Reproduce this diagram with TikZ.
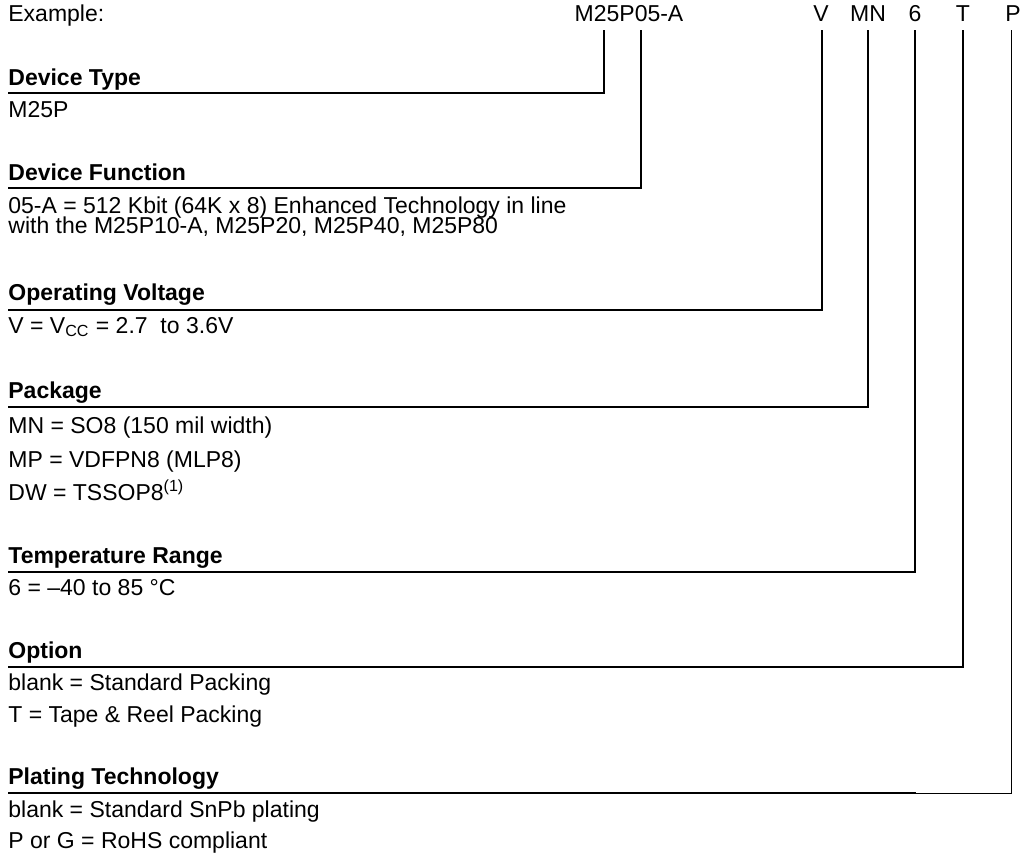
\documentclass[tikz,border=0pt]{standalone}
\usepackage{fontspec}
\setmainfont{Liberation Sans}
\usetikzlibrary{positioning}

\tikzset{
  txt/.style={anchor=base west, inner sep=0pt, font=\fontsize{11.5}{13}\selectfont},
  head/.style={txt, font=\fontsize{11.5}{13}\selectfont\bfseries},
  code/.style={anchor=base, inner sep=0pt, font=\fontsize{11.5}{13}\selectfont},
  rule/.style={line width=0.75pt},
  thinrule/.style={line width=0.5pt}
}

\begin{document}
\begin{tikzpicture}[x=0.5pt, y=-0.5pt]
    \useasboundingbox (0, 0) rectangle (1020, 856);

    \node[txt] (ex) at (8, 22) {Example:};

    % part number fields
    \node[code] (pn) at (629, 22) {M25P05-A};
    \node[code] (cV) at (821, 22) {V};
    \node[code] (cMN) at (868, 22) {MN};
    \node[code] (c6) at (915, 22) {6};
    \node[code] (cT) at (963, 22) {T};
    \node[code] (cP) at (1013, 22) {P};

    \coordinate (tType) at (604, 30);
    \coordinate (tFunc) at (641, 30);
    \coordinate (tV) at (822, 30);
    \coordinate (tMN) at (868, 30);
    \coordinate (t6) at (915, 30);
    \coordinate (tT) at (963, 30);
    \coordinate (tP) at (1011, 30);

    % Device Type
    \node[head] (hType) at (8, 85) {Device Type};
    \coordinate (uType) at (8, 93);
    \node[txt] at (8, 118) {M25P};
    \draw[rule] (uType) -| (tType);

    % Device Function
    \node[head] (hFunc) at (8, 180) {Device Function};
    \coordinate (uFunc) at (8, 188);
    \node[txt] at (8, 213) {05-A = 512 Kbit (64K x 8) Enhanced Technology in line};
    \node[txt] at (8, 233) {with the M25P10-A, M25P20, M25P40, M25P80};
    \draw[rule] (uFunc) -| (tFunc);

    % Operating Voltage
    \node[head] (hVolt) at (8, 300) {Operating Voltage};
    \coordinate (uVolt) at (8, 310);
    \node[txt] at (8, 333) {V = V\textsubscript{CC} = 2.7\ \ to 3.6V};
    \draw[rule] (uVolt) -| (tV);

    % Package
    \node[head] (hPack) at (8, 398) {Package};
    \coordinate (uPack) at (8, 407);
    \node[txt] at (8, 433) {MN = SO8 (150 mil width)};
    \node[txt] at (8, 467) {MP = VDFPN8 (MLP8)};
    \node[txt] at (8, 500) {DW = TSSOP8\textsuperscript{(1)}};
    \draw[rule] (uPack) -| (tMN);

    % Temperature Range
    \node[head] (hTemp) at (8, 563) {Temperature Range};
    \coordinate (uTemp) at (8, 572);
    \node[txt] at (8, 595) {6 = –40 to 85 °C};
    \draw[rule] (uTemp) -| (t6);

    % Option
    \node[head] (hOpt) at (8, 658) {Option};
    \coordinate (uOpt) at (8, 667);
    \node[txt] at (8, 690) {blank = Standard Packing};
    \node[txt] at (8, 722) {T = Tape \& Reel Packing};
    \draw[rule] (uOpt) -| (tT);

    % Plating Technology
    \node[head] (hPlat) at (8, 784) {Plating Technology};
    \coordinate (uPlat) at (8, 793);
    \coordinate (kPlat) at (916, 793);
    \node[txt] at (8, 817) {blank = Standard SnPb plating};
    \node[txt] at (8, 848) {P or G = RoHS compliant};
    \draw[rule] (uPlat) -- (kPlat);
    \draw[thinrule] (kPlat) -| (tP);
\end{tikzpicture}
\end{document}
